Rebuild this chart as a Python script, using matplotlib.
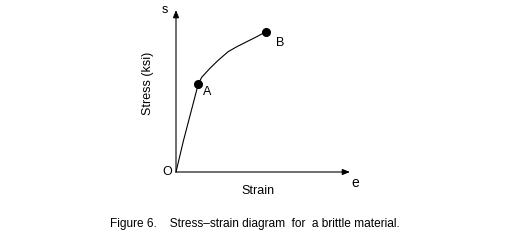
import matplotlib
matplotlib.use("Agg")
import matplotlib.pyplot as plt

# stress-strain curve (normalised units, axis length = 1)
strain = [0.0, 0.042, 0.128, 0.148, 0.195, 0.243, 0.300, 0.349, 0.406, 0.464, 0.517]
stress = [0.0, 0.190, 0.543, 0.585, 0.640, 0.690, 0.743, 0.773, 0.804, 0.835, 0.866]
point_names = ["A", "B"]
point_strain = [0.128, 0.517]
point_stress = [0.543, 0.866]
caption = "Figure 6.    Stress\u2013strain diagram  for  a brittle material."

plt.rcParams["font.family"] = ["Liberation Sans", "DejaVu Sans"]

W, H = 506, 249
fig = plt.figure(figsize=(W / 100, H / 100), dpi=100)
ax = fig.add_axes([176 / W, (H - 172) / H, 174 / W, 162 / H])
ax.set_xlim(0, 1)
ax.set_ylim(0, 1)
ax.axis("off")

arrow = dict(arrowstyle="-|>,head_length=0.45,head_width=0.18", color="black", lw=0.8,
             shrinkA=0, shrinkB=0)
ax.annotate("", xy=(1, 0), xytext=(0, 0), arrowprops=arrow, annotation_clip=False)
ax.annotate("", xy=(0, 1), xytext=(0, 0), arrowprops=arrow, annotation_clip=False)

ax.plot(strain, stress, color="black", lw=0.8, clip_on=False)
ax.plot(point_strain, point_stress, "o", color="black", ms=5.5, clip_on=False)

offsets = [(0.05, -0.05), (0.08, -0.07)]
for name, x, y, (dx, dy) in zip(point_names, point_strain, point_stress, offsets):
    ax.text(x + dx, y + dy, name, fontsize=9, ha="center", va="center")

ax.text(-0.05, 0.0, "O", fontsize=9, ha="center", va="center")
ax.text(-0.065, 1.0, "s", fontsize=9, ha="center", va="center")
ax.text(1.03, -0.07, "e", fontsize=10, ha="center", va="center")
ax.text(0.47, -0.12, "Strain", fontsize=9, ha="center", va="center")
ax.text(-0.16, 0.55, "Stress (ksi)", fontsize=9, ha="center", va="center", rotation=90)

fig.text(255 / W, 1 - 224 / H, caption, fontsize=8.6, ha="center", va="center")

fig.savefig("out.png", dpi=100)
